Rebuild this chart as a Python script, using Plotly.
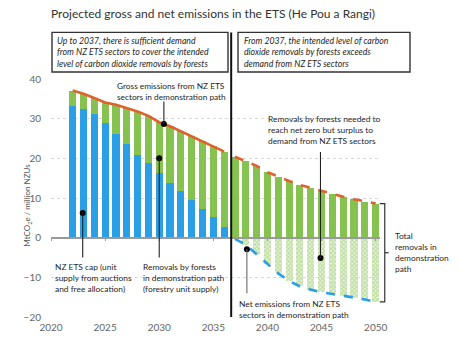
import numpy as np
import plotly.graph_objects as go

# ---------------- data ----------------
years = list(range(2022, 2051))
gross = [37.1, 36.3, 35.2, 34.1, 33.5, 32.7, 31.8, 30.7, 29.1, 28.1, 26.8, 25.6, 24.3, 23.1, 21.7,
         20.4, 19.3, 18.1, 16.5, 15.3, 14.3, 13.3, 12.5, 11.8, 11.0, 10.3, 9.7, 9.1, 8.6]
cap = [33.1, 32.4, 31.1, 28.9, 26.2, 23.7, 20.9, 18.7, 16.2, 13.9, 11.8, 9.5, 7.3, 5.3, 2.6,
       0, 0, 0, 0, 0, 0, 0, 0, 0, 0, 0, 0, 0, 0]
net_years = list(range(2037, 2051))
net = [-0.3, -1.8, -4.2, -6.6, -9.0, -10.9, -12.3, -13.1, -13.8, -14.2, -14.6, -15.1, -15.6, -16.2]
split_year = 2036.65

removals = [g - c for g, c in zip(gross, cap)]

BLUE = "#2A9FE6"
GREEN = "#86C24F"
ORANGE = "#E0612B"
TXT = "#262626"
FONT = "Lato"

Y0, Y1 = -20, 40
X0, X1 = 2020, 2050.4

fig = go.Figure()

fig.add_bar(x=years, y=cap, marker_color=BLUE, width=0.66, marker_line_width=0)
fig.add_bar(x=years, y=removals, marker_color=GREEN, width=0.66, marker_line_width=0)
fig.add_bar(x=net_years, y=net, width=0.66, marker_line_width=0,
            marker=dict(color="#C9E4B0",
                        pattern=dict(shape="x", fgcolor="#8CC55A", bgcolor="#E6F2DA",
                                     size=3, solidity=0.55)))

n_pre = sum(1 for y in years if y < split_year)
fig.add_scatter(x=years[:n_pre], y=gross[:n_pre], mode="lines",
                line=dict(color=ORANGE, width=2.6))
fig.add_scatter(x=years[n_pre:], y=gross[n_pre:], mode="lines",
                line=dict(color=ORANGE, width=2.6, dash="dash"))
fig.add_scatter(x=net_years, y=net, mode="lines",
                line=dict(color=BLUE, width=2.6, dash="dash"))

# annotation dots
gx = 2030.43
gy = float(np.interp(gx, years, gross))
dots_x = [gx, 2030.0, 2022.93, 2044.9, 2038.1]
dots_y = [gy, 20.0, 6.25, -5.1, -2.9]
fig.add_scatter(x=dots_x, y=dots_y, mode="markers",
                marker=dict(color="black", size=6))
# trace on the zero-line axis
fig.add_scatter(x=[2020], y=[0], xaxis="x2", mode="markers",
                marker=dict(opacity=0), hoverinfo="skip")

shapes = []
def vline(x, y0, y1, color="#222", w=1.1):
    shapes.append(dict(type="line", xref="x", yref="y", x0=x, x1=x, y0=y0, y1=y1,
                       line=dict(color=color, width=w)))

vline(gx, gy, 34.3)
vline(2030.0, 20.0, -5.0)
vline(2022.93, 6.25, -5.0)
vline(2044.9, 21.6, -5.1)
vline(2038.1, -2.9, -14.0, color="#666")

def px_x(p):
    return (p - 51) / 329
def px_y(p):
    return (319 - p) / 240
def dx(x):
    return (x - X0) / (X1 - X0)
def dy(y):
    return (y - Y0) / (Y1 - Y0)

# separator line
shapes.append(dict(type="line", xref="x", yref="paper", x0=split_year, x1=split_year,
                   y0=0, y1=px_y(32), line=dict(color="#111", width=2)))

# boxes
for x0, x1 in [(52, 228), (238, 410)]:
    shapes.append(dict(type="rect", xref="paper", yref="paper",
                       x0=px_x(x0), x1=px_x(x1), y0=px_y(72), y1=px_y(32),
                       line=dict(color="#333", width=1.4), fillcolor="rgba(0,0,0,0)"))

# bracket for total removals
top, bot = gross[-1], net[-1]
mid = (top + bot) / 2
bxl, bx, bxr = dx(2050.38), dx(2050.84), dx(2051.2)
shapes.append(dict(type="path", xref="paper", yref="paper",
                   path=f"M {bxl} {dy(top)} L {bx} {dy(top)} L {bx} {dy(bot)} L {bxl} {dy(bot)}",
                   line=dict(color="#333", width=1.2)))
shapes.append(dict(type="line", xref="paper", yref="paper", x0=bx, x1=bxr, y0=dy(mid), y1=dy(mid),
                   line=dict(color="#333", width=1.2)))

annotations = []
def note(x, y, text, xref="x", yref="y", size=8.4, color=TXT, xanchor="left", **kw):
    annotations.append(dict(x=x, y=y, xref=xref, yref=yref, text=text, showarrow=False,
                            xanchor=xanchor, yanchor="middle", align="left",
                            font=dict(size=size, color=color, family=FONT), **kw))

note(px_x(49), px_y(13), "Projected gross and net emissions in the ETS (He Pou a Rangi)",
     xref="paper", yref="paper", size=12, color="#333")
note(px_x(55), px_y(52), "<i>Up to 2037, there is sufficient demand<br>from NZ ETS sectors to cover the intended<br>level of carbon dioxide removals by forests</i>",
     xref="paper", yref="paper", size=8.7)
note(px_x(242), px_y(52), "<i>From 2037, the intended level of carbon<br>dioxide removals by forests exceeds<br>demand from NZ ETS sectors</i>",
     xref="paper", yref="paper", size=8.7)

note(2025.9, 36.95, "Gross emissions from NZ ETS<br>sectors in demonstration path", size=8.3)
note(2028.31, -10.25, "Removals by forests<br>in demonstration path<br>(forestry unit supply)")
note(2020.18, -10.25, "NZ ETS cap (unit<br>supply from auctions<br>and free allocation)")
note(2039.85, 27.1, "Removals by forests needed to<br>reach net zero but surplus to<br>demand from NZ ETS sectors")
note(2037.17, -18.0, "Net emissions from NZ ETS<br>sectors in demonstration path")
note(dx(2051.58), dy(mid), "Total<br>removals in<br>demonstration<br>path", xref="paper", yref="paper")

annotations.append(dict(x=0, y=0.47, xref="paper", yref="paper", xshift=-31,
                        text="MtCO<sub>2</sub>e / million NZUs", textangle=-90, showarrow=False,
                        font=dict(size=8, color="#555", family=FONT)))

fig.update_layout(
    width=460, height=345,
    margin=dict(l=51, r=80, t=79, b=26),
    paper_bgcolor="white", plot_bgcolor="white",
    barmode="relative", bargap=0,
    showlegend=False,
    shapes=shapes, annotations=annotations,
    font=dict(family=FONT, color="#555"),
    xaxis=dict(range=[X0, X1], tickvals=list(range(2020, 2051, 5)),
               showgrid=False, zeroline=False, showline=False, ticks="",
               ticklabelstandoff=3,
               tickfont=dict(size=10, color="#666", family=FONT)),
    xaxis2=dict(overlaying="x", matches="x", anchor="free", position=dy(0),
                range=[X0, X1], showline=True, linecolor="#9a9a9a", linewidth=1.5,
                ticks="outside", ticklen=3, tickcolor="#9a9a9a",
                tickvals=list(range(2020, 2051, 5)), showticklabels=False, showgrid=False,
                zeroline=False),
    yaxis=dict(range=[Y0, Y1], dtick=10, showgrid=True, gridcolor="#d9d9d9",
               griddash="dot", gridwidth=1, zeroline=False, showline=False,
               ticks="", ticklabelstandoff=9,
               tickfont=dict(size=10, color="#666", family=FONT)),
)

fig.write_html("out.html")
